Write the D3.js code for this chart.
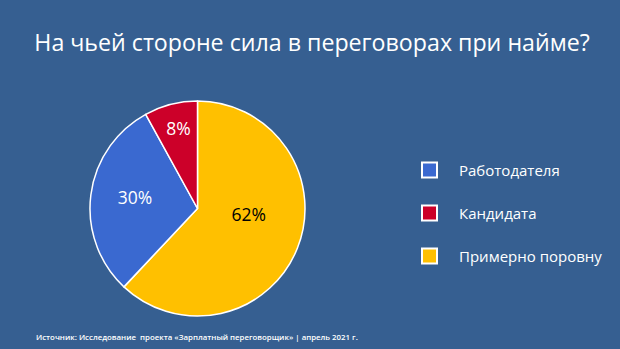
<!DOCTYPE html>
<html><head><meta charset="utf-8">
<script src="https://cdn.jsdelivr.net/npm/d3@7"></script>
<style>html,body{margin:0;padding:0;background:#365f91;}svg{display:block;}</style>
</head><body>
<svg id="c" width="620" height="349"></svg>
<script>
const title = "На чьей стороне сила в переговорах при найме?";
const source = "Источник: Исследование  проекта «Зарплатный переговорщик» | апрель 2021 г.";
const sliceNames = ["Примерно поровну", "Работодателя", "Кандидата"];
const sliceValues = [62, 30, 8];
const sliceColors = ["#ffc000", "#3a69d0", "#cc0029"];
const labelColors = ["#000000", "#ffffff", "#ffffff"];
const legendOrder = ["Работодателя", "Кандидата", "Примерно поровну"];

const svg = d3.select("#c");
const W = 620, H = 349;
svg.append("rect").attr("width", W).attr("height", H).attr("fill", "#365f91");

svg.append("text").attr("x", 312).attr("y", 51).attr("text-anchor", "middle")
  .attr("font-family", "'Open Sans', sans-serif").attr("font-size", 23.2).attr("font-weight", 500)
  .attr("fill", "#fff")
  .text(title);

const cx = 197.5, cy = 208.5, R = 107.5;
const pie = d3.pie().sort(null).value(d => d);
const arcs = pie(sliceValues);
const arc = d3.arc().innerRadius(0).outerRadius(R);
const g = svg.append("g").attr("transform", `translate(${cx},${cy})`);
g.selectAll("path").data(arcs).join("path")
  .attr("d", arc).attr("fill", (d, i) => sliceColors[i])
  .attr("stroke", "#fff").attr("stroke-width", 1.5).attr("stroke-linejoin", "round");

// label placement: radius fraction and angle nudge per slice
const labelR = [0.48, 0.59, 0.77];
const labelNudge = [-16, 3, 1.2];
g.selectAll("text.lbl").data(arcs).join("text").attr("class", "lbl")
  .each(function (d, i) {
    const a = (d.startAngle + d.endAngle) / 2 + labelNudge[i] * Math.PI / 180;
    const r = R * labelR[i];
    d3.select(this).attr("x", r * Math.sin(a)).attr("y", -r * Math.cos(a));
  })
  .attr("text-anchor", "middle").attr("dominant-baseline", "central")
  .attr("font-family", "'Open Sans', sans-serif").attr("font-size", 17.5)
  .attr("fill", (d, i) => labelColors[i])
  .text(d => d.data + "%");

const ly = d3.scalePoint().domain(legendOrder).range([170, 256]);
const lg = svg.append("g");
legendOrder.forEach(name => {
  const i = sliceNames.indexOf(name);
  const y = ly(name);
  lg.append("rect").attr("x", 422).attr("y", y - 7.5).attr("width", 15).attr("height", 15)
    .attr("fill", sliceColors[i]).attr("stroke", "#fff").attr("stroke-width", 2);
  lg.append("text").attr("x", 459).attr("y", y).attr("dominant-baseline", "central")
    .attr("font-family", "'Open Sans', sans-serif").attr("font-size", 15).attr("fill", "#fff")
    .text(name);
});

svg.append("text").attr("x", 36).attr("y", 337).attr("dominant-baseline", "central")
  .attr("font-family", "'Open Sans', sans-serif").attr("font-size", 7.85).attr("font-weight", 600)
  .attr("fill", "#fff").style("white-space", "pre").text(source);
</script>
</body></html>
